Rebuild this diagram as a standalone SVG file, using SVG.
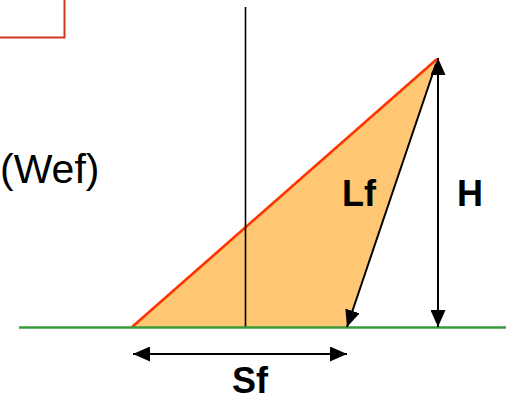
<svg xmlns="http://www.w3.org/2000/svg" width="506" height="401" viewBox="0 0 506 401">
<defs>
<style>
.lbl{font-family:"Liberation Sans",Arial,sans-serif;fill:#000}
.b{font-weight:bold;font-size:36px}
.dim{stroke:#000;stroke-width:2;fill:none}
</style>
<marker id="ah" markerUnits="userSpaceOnUse" markerWidth="17" markerHeight="15" refX="17" refY="7.5" orient="auto-start-reverse" viewBox="0 0 17 15">
<path d="M0,0 L17,7.5 L0,15 z" fill="#000"/>
</marker>
</defs>
<rect width="506" height="401" fill="#fff"/>
<g id="box">
<path d="M-2,37.5 H64.5 V-2" fill="none" stroke="#d0381c" stroke-width="2"/>
</g>
<g id="wedge">
<polygon points="132,327 437,59 347,327" fill="#ffc773"/>
<line x1="132" y1="327" x2="437" y2="59" stroke="#ff3300" stroke-width="2.5"/>
</g>
<g id="axis">
<line x1="245.5" y1="7" x2="245.5" y2="327" stroke="#000" stroke-width="1.6"/>
</g>
<g id="ground">
<line x1="19" y1="327.5" x2="506" y2="327.5" stroke="#3a9a3a" stroke-width="2.5"/>
</g>
<g id="connectors">
<line class="dim" x1="436" y1="64" x2="347" y2="327" marker-end="url(#ah)"/>
<line class="dim" x1="438" y1="58" x2="438" y2="327" marker-start="url(#ah)" marker-end="url(#ah)"/>
<line class="dim" x1="133" y1="354" x2="347" y2="354" marker-start="url(#ah)" marker-end="url(#ah)"/>
</g>
<g id="labels">
<text class="lbl" x="0" y="183" font-size="41">(Wef)</text>
<text class="lbl b" x="342" y="206">Lf</text>
<text class="lbl b" x="457" y="206">H</text>
<text class="lbl b" x="250" y="393" text-anchor="middle" font-size="34">Sf</text>
</g>
</svg>
